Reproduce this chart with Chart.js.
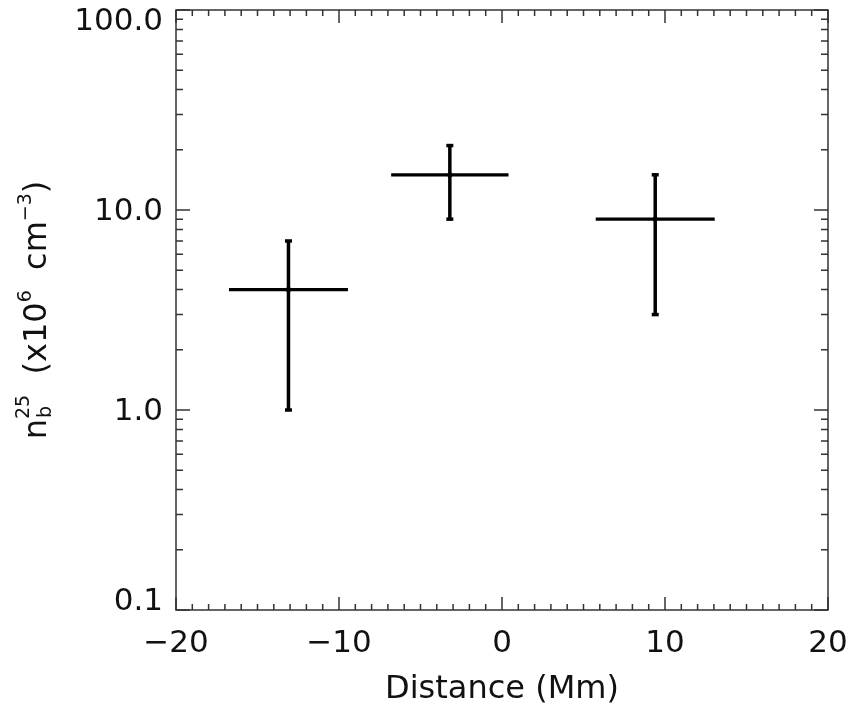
<!DOCTYPE html>
<html>
<head>
<meta charset="utf-8">
<script src="https://cdn.jsdelivr.net/npm/chart.js@4.4.1/dist/chart.umd.min.js"></script>
<style>
  html, body { margin: 0; padding: 0; background: #fff; }
  canvas { display: block; }
</style>
</head>
<body>
<canvas id="c" width="850" height="711"></canvas>
<script>
// values
const distance  = [-13.1, -3.2, 9.4];   // Mm
const distErr   = [3.65, 3.6, 3.65];
const density   = [4.0, 15.0, 9.0];     // x10^6 cm^-3
const densLow   = [1.0, 9.0, 3.0];
const densHigh  = [7.0, 21.0, 15.0];

const xTicks  = [-20, -10, 0, 10, 20];
const yTicks  = [0.1, 1, 10, 100];
const yLabels = ['0.1', '1.0', '10.0', '100.0'];

const ink = '#111';
const axisInk = '#333';
const FONT = "'DejaVu Sans ExtraLight', 'DejaVu Sans', sans-serif";

// each point -> one horizontal bar, one vertical bar with caps, one small marker
const sets = [];
distance.forEach((x, i) => {
    sets.push({
        data: [{ x: x - distErr[i], y: density[i] }, { x: x + distErr[i], y: density[i] }],
        borderColor: '#000', borderWidth: 3.3, pointRadius: 0, showLine: true
    });
    sets.push({
        data: [{ x: x, y: densLow[i] }, { x: x, y: densHigh[i] }],
        borderColor: '#000', borderWidth: 3.5, showLine: true,
        pointStyle: 'line', pointRadius: 3.5, pointBorderWidth: 3.5, pointBorderColor: '#000'
    });
    sets.push({
        data: [{ x: x, y: density[i] }],
        pointStyle: 'rect', pointRadius: 2.5, backgroundColor: '#000', borderColor: '#000', showLine: false
    });
});

// box, inward ticks, y labels and the y title with sub/superscripts
const frame = {
    id: 'frame',
    afterDraw(chart) {
        const { ctx, chartArea: a, scales: { x, y } } = chart;
        ctx.save();
        ctx.strokeStyle = axisInk;
        ctx.lineWidth = 1.5;
        ctx.strokeRect(a.left, a.top, a.right - a.left, a.bottom - a.top);

        ctx.beginPath();
        for (let v = -20; v <= 20; v++) {
            const px = x.getPixelForValue(v);
            const len = v % 10 === 0 ? 13 : 6;
            ctx.moveTo(px, a.bottom); ctx.lineTo(px, a.bottom - len);
            ctx.moveTo(px, a.top); ctx.lineTo(px, a.top + len);
        }
        for (let e = -1; e <= 2; e++) {
            for (let k = 1; k <= 9; k++) {
                if (e === 2 && k > 1) break;
                const py = y.getPixelForValue(k * Math.pow(10, e));
                const len = k === 1 ? 14 : 7;
                ctx.moveTo(a.left, py); ctx.lineTo(a.left + len, py);
                ctx.moveTo(a.right, py); ctx.lineTo(a.right - len, py);
            }
        }
        ctx.stroke();

        // y tick labels
        ctx.fillStyle = ink;
        ctx.font = '31px ' + FONT;
        ctx.textAlign = 'right';
        ctx.textBaseline = 'middle';
        yTicks.forEach((v, i) => {
            let py = y.getPixelForValue(v) + 2;
            py = Math.min(Math.max(py, a.top + 12), a.bottom - 8);
            ctx.fillText(yLabels[i], a.left - 13, py);
        });

        // y title: n_b^25 (x10^6 cm^-3)
        const big = '32px ' + FONT, small = '19px ' + FONT;
        const parts = [
            ['n', big, 0], ['b|25', small, 0], ['  (x10', big, 0], ['6', small, -15],
            ['  cm', big, 0], ['\u22123', small, -15], [')', big, 0]
        ];
        let total = 0;
        parts.forEach(p => {
            ctx.font = p[1];
            const t = p[0].includes('|') ? p[0].split('|')[1] : p[0];
            total += ctx.measureText(t).width;
        });
        ctx.translate(46, (a.top + a.bottom) / 2);
        ctx.rotate(-Math.PI / 2);
        ctx.textAlign = 'left';
        ctx.textBaseline = 'alphabetic';
        let cx = -total / 2;
        parts.forEach(p => {
            ctx.font = p[1];
            if (p[0].includes('|')) {
                const [sub, sup] = p[0].split('|');
                ctx.fillText(sub, cx + 1, 5);
                ctx.fillText(sup, cx, -17);
                cx += ctx.measureText(sup).width;
            } else {
                ctx.fillText(p[0], cx, p[2]);
                cx += ctx.measureText(p[0]).width;
            }
        });
        ctx.restore();
    }
};

new Chart(document.getElementById('c'), {
    type: 'scatter',
    data: { datasets: sets },
    options: {
        responsive: false,
        animation: false,
        layout: { padding: { top: 10, right: 22, left: 0, bottom: 0 } },
        plugins: { legend: { display: false }, tooltip: { enabled: false } },
        scales: {
            x: {
                type: 'linear', position: 'bottom', min: -20, max: 20,
                afterBuildTicks: s => { s.ticks = xTicks.map(v => ({ value: v })); },
                afterFit: s => { s.height = 101; s.paddingLeft = 0; s.paddingRight = 0; },
                grid: { display: false, drawTicks: false },
                border: { display: false },
                ticks: {
                    padding: 15, color: ink, autoSkip: false, maxRotation: 0,
                    font: { family: FONT, size: 31 },
                    callback: v => String(v).replace('-', '\u2212')
                },
                title: {
                    display: true, text: 'Distance (Mm)', color: ink,
                    font: { family: FONT, size: 32 }, padding: { top: 0, bottom: 2 }
                }
            },
            y: {
                type: 'logarithmic', position: 'left', min: 0.1, max: 100,
                afterBuildTicks: s => { s.ticks = yTicks.map(v => ({ value: v })); },
                afterFit: s => { s.width = 176; s.paddingTop = 0; s.paddingBottom = 0; },
                grid: { display: false, drawTicks: false },
                border: { display: false },
                ticks: { display: false }
            }
        }
    },
    plugins: [frame]
});
</script>
</body>
</html>
